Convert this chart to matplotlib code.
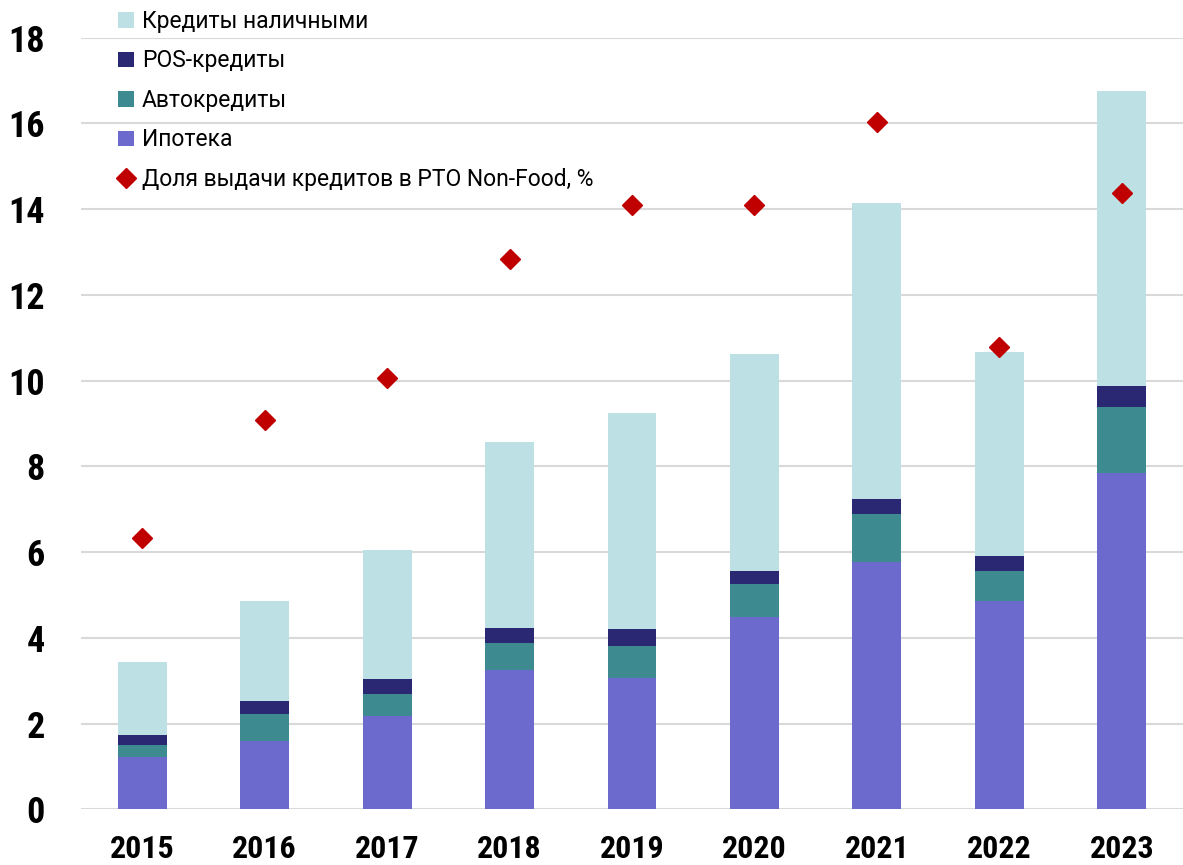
import numpy as np
import matplotlib
matplotlib.use('Agg')
import matplotlib.pyplot as plt

plt.rcParams['font.family'] = ['Roboto Condensed', 'Roboto', 'DejaVu Sans']

# data
years = ['2015', '2016', '2017', '2018', '2019', '2020', '2021', '2022', '2023']
mortgage = [1.22, 1.60, 2.18, 3.26, 3.07, 4.49, 5.77, 4.86, 7.85]
auto = [0.28, 0.62, 0.50, 0.61, 0.74, 0.77, 1.11, 0.70, 1.54]
pos = [0.24, 0.31, 0.37, 0.37, 0.39, 0.29, 0.36, 0.34, 0.49]
cash = [1.70, 2.34, 2.99, 4.32, 5.05, 5.06, 6.91, 4.76, 6.88]
share = [6.32, 9.07, 10.07, 12.84, 14.10, 14.10, 16.04, 10.79, 14.38]

c_cash = '#BCE0E3'
c_pos = '#2A2873'
c_auto = '#3D8B90'
c_mort = '#6C6BCD'
c_share = '#C00000'

fig = plt.figure(figsize=(11.83, 8.65), dpi=100)
ax = fig.add_axes([81/1183, 55.7/865, 1 - 81/1183, 771.6/865])

x = np.arange(len(years))
w = 0.40
b1 = np.array(mortgage)
b2 = b1 + np.array(auto)
b3 = b2 + np.array(pos)

h_mort = ax.bar(x, mortgage, w, color=c_mort, zorder=2)
h_auto = ax.bar(x, auto, w, bottom=b1, color=c_auto, zorder=2)
h_pos = ax.bar(x, pos, w, bottom=b2, color=c_pos, zorder=2)
h_cash = ax.bar(x, cash, w, bottom=b3, color=c_cash, zorder=2)
h_share, = ax.plot(x, share, linestyle='none', marker='D', markersize=10,
                   color=c_share, zorder=3)

ax.set_xlim(-0.5, 8.5)
ax.set_ylim(0, 18)
ax.set_yticks(np.arange(0, 19, 2))
ax.set_xticks(x)
ax.set_xticklabels(years)
ax.grid(axis='y', color='#D9D9D9', linewidth=1.5, zorder=0)
ax.set_axisbelow(True)
for s in ax.spines.values():
    s.set_visible(False)
ax.tick_params(axis='y', length=0, pad=26, labelsize=26)
ax.tick_params(axis='x', length=0, pad=18, labelsize=23)
for lab in ax.get_yticklabels() + ax.get_xticklabels():
    lab.set_fontweight('bold')

fig.legend([h_cash, h_pos, h_auto, h_mort, h_share],
           ['Кредиты наличными', 'POS-кредиты', 'Автокредиты', 'Ипотека',
            'Доля выдачи кредитов в РТО Non-Food, %'],
           loc='upper left', bbox_to_anchor=(118/1183, 1 - 10/865),
           frameon=False, prop={'family': 'Roboto', 'size': 16.5},
           handlelength=0.68, handleheight=0.68,
           handletextpad=0.36, labelspacing=0.72, borderpad=0, borderaxespad=0)

fig.savefig('out.png', dpi=100)
